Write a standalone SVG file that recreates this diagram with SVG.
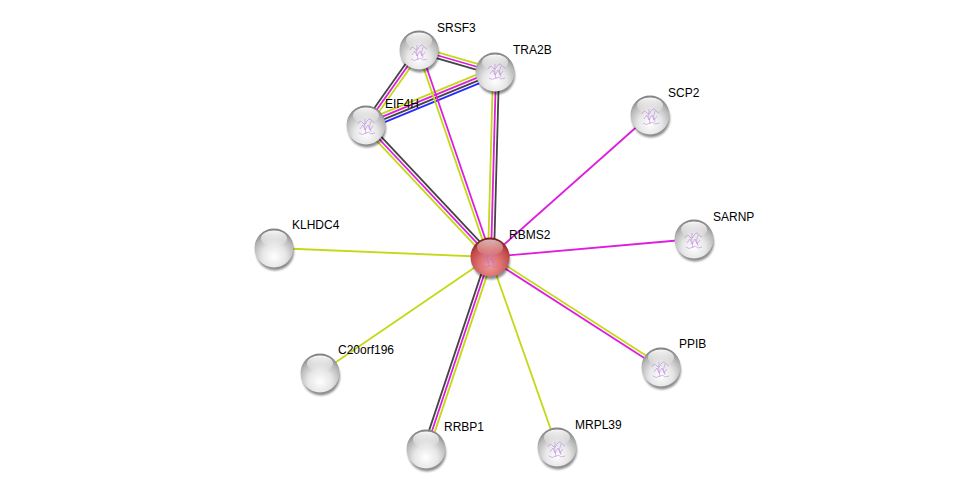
<svg xmlns="http://www.w3.org/2000/svg" xmlns:xlink="http://www.w3.org/1999/xlink" width="976" height="494" viewBox="0 0 976 494">
<style>
.e{fill:none;stroke-width:1.8;stroke-linecap:butt}
.tm{stroke:#c4d916}
.ex{stroke:#dd1fdd}
.co{stroke:#444444}
.oc{stroke:#2a2aff}
.lbl{font-family:"Liberation Sans",Arial,sans-serif;font-size:12px;fill:#000}
.prot{fill:none;stroke:#b070d8;stroke-width:0.7;opacity:0.7}
</style>
<defs>
<filter id="blur" x="-50%" y="-50%" width="200%" height="200%"><feGaussianBlur stdDeviation="1.3"/></filter>
<radialGradient id="gGray" cx="50%" cy="72%" r="68%">
<stop offset="0" stop-color="#ffffff"/>
<stop offset="0.45" stop-color="#e6e6e6"/>
<stop offset="0.8" stop-color="#b6b6b6"/>
<stop offset="1" stop-color="#858585"/>
</radialGradient>
<radialGradient id="gRed" cx="50%" cy="72%" r="68%">
<stop offset="0" stop-color="#f19a9a"/>
<stop offset="0.45" stop-color="#dc6e6e"/>
<stop offset="0.8" stop-color="#bf4646"/>
<stop offset="1" stop-color="#7e2020"/>
</radialGradient>
<linearGradient id="hl" x1="0" y1="0" x2="0" y2="1">
<stop offset="0" stop-color="#fff" stop-opacity="0.95"/>
<stop offset="1" stop-color="#fff" stop-opacity="0.05"/>
</linearGradient>
<g id="shadow"><circle cx="1" cy="3.5" r="19" fill="#000" opacity="0.45" filter="url(#blur)"/></g>
<g id="grayBall">
<use xlink:href="#shadow"/>
<circle r="19.5" fill="url(#gGray)"/>
<ellipse cx="0" cy="-9.5" rx="13" ry="8" fill="url(#hl)"/>
</g>
<g id="redBall">
<use xlink:href="#shadow"/>
<circle r="19.5" fill="url(#gRed)"/>
<ellipse cx="0" cy="-9.5" rx="13" ry="8" fill="url(#hl)" opacity="0.7"/>
</g>
<path id="struct" class="prot" d="M-9,-3 q2,-5 5,-1 q2,3 4,-2 q3,-4 5,0 l3,2 M-7,2 l3,-4 l2,5 l3,-5 l2,5 l3,-4 M-8,6 q3,3 7,0 q3,-2 5,1 l4,-1 M-2,-8 q-1,7 1,15 M4,-6 q-3,5 0,11"/>
</defs>

<g id="edges">
<!-- SRSF3 - TRA2B -->
<line class="e tm" x1="419.8" y1="47.1" x2="495.8" y2="69.1"/>
<line class="e ex" x1="419" y1="50" x2="495" y2="72"/>
<line class="e co" x1="418.2" y1="52.9" x2="494.2" y2="74.9"/>
<!-- SRSF3 - EIF4H -->
<line class="e co" x1="416.6" y1="48.3" x2="363.6" y2="123.3"/>
<line class="e ex" x1="419" y1="50" x2="366" y2="125"/>
<line class="e tm" x1="421.4" y1="51.7" x2="368.4" y2="126.7"/>
<!-- EIF4H - TRA2B -->
<line class="e tm" x1="364.3" y1="120.8" x2="493.3" y2="67.8"/>
<line class="e ex" x1="365.4" y1="123.6" x2="494.4" y2="70.6"/>
<line class="e co" x1="366.6" y1="126.4" x2="495.6" y2="73.4"/>
<line class="e oc" x1="367.7" y1="129.2" x2="496.7" y2="76.2"/>
<!-- SRSF3 - RBMS2 -->
<line class="e tm" x1="417.6" y1="50.5" x2="488.6" y2="257.5"/>
<line class="e ex" x1="420.4" y1="49.5" x2="491.4" y2="256.5"/>
<!-- TRA2B - RBMS2 -->
<line class="e tm" x1="493" y1="72" x2="488" y2="257"/>
<line class="e ex" x1="496" y1="72" x2="491" y2="257"/>
<line class="e co" x1="499" y1="72" x2="494" y2="257"/>
<!-- EIF4H - RBMS2 -->
<line class="e co" x1="368.2" y1="122.9" x2="492.2" y2="254.9"/>
<line class="e ex" x1="366" y1="125" x2="490" y2="257"/>
<line class="e tm" x1="363.8" y1="127.1" x2="487.8" y2="259.1"/>
<!-- RRBP1 - RBMS2 -->
<line class="e co" x1="487.2" y1="256.1" x2="423.2" y2="448.1"/>
<line class="e ex" x1="490" y1="257" x2="426" y2="449"/>
<line class="e tm" x1="492.8" y1="257.9" x2="428.8" y2="449.9"/>
<!-- PPIB - RBMS2 -->
<line class="e tm" x1="490.8" y1="255.7" x2="661.8" y2="365.7"/>
<line class="e ex" x1="489.2" y1="258.3" x2="660.2" y2="368.3"/>
<!-- singles -->
<line class="e ex" x1="490" y1="257" x2="650" y2="115"/>
<line class="e ex" x1="490" y1="257" x2="694" y2="239"/>
<line class="e tm" x1="274" y1="248" x2="490" y2="257"/>
<line class="e tm" x1="320" y1="373" x2="490" y2="257"/>
<line class="e tm" x1="557" y1="447" x2="490" y2="257"/>
</g>

<g id="node-SRSF3">
<use xlink:href="#grayBall" x="419" y="50"/>
<use xlink:href="#struct" x="419" y="53"/>
<text class="lbl" x="437" y="32">SRSF3</text>
</g>
<g id="node-TRA2B">
<use xlink:href="#grayBall" x="495" y="72"/>
<use xlink:href="#struct" x="497" y="72"/>
<text class="lbl" x="513" y="54">TRA2B</text>
</g>
<g id="node-EIF4H">
<use xlink:href="#grayBall" x="366" y="125"/>
<use xlink:href="#struct" x="367" y="127"/>
<text class="lbl" x="385" y="108">EIF4H</text>
</g>
<g id="node-SCP2">
<use xlink:href="#grayBall" x="650" y="115"/>
<use xlink:href="#struct" x="651" y="117"/>
<text class="lbl" x="668" y="97">SCP2</text>
</g>
<g id="node-SARNP">
<use xlink:href="#grayBall" x="694" y="239"/>
<use xlink:href="#struct" x="694" y="241"/>
<text class="lbl" x="713" y="221">SARNP</text>
</g>
<g id="node-KLHDC4">
<use xlink:href="#grayBall" x="274" y="248"/>
<text class="lbl" x="292" y="229">KLHDC4</text>
</g>
<g id="node-C20orf196">
<use xlink:href="#grayBall" x="320" y="373"/>
<text class="lbl" x="338" y="354">C20orf196</text>
</g>
<g id="node-PPIB">
<use xlink:href="#grayBall" x="661" y="367"/>
<use xlink:href="#struct" x="661" y="370"/>
<text class="lbl" x="679" y="348">PPIB</text>
</g>
<g id="node-MRPL39">
<use xlink:href="#grayBall" x="557" y="447"/>
<use xlink:href="#struct" x="557" y="450"/>
<text class="lbl" x="575" y="429">MRPL39</text>
</g>
<g id="node-RRBP1">
<use xlink:href="#grayBall" x="426" y="449"/>
<text class="lbl" x="444" y="431">RRBP1</text>
</g>
<g id="node-RBMS2">
<use xlink:href="#redBall" x="490" y="257"/>
<use xlink:href="#struct" x="490" y="260" style="stroke:#c0308a"/>
<text class="lbl" x="509" y="239">RBMS2</text>
</g>
</svg>
